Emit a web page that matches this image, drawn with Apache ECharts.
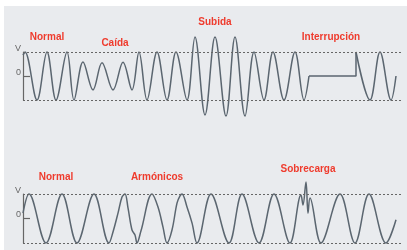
<!DOCTYPE html>
<html>
<head>
<meta charset="utf-8">
<script src="https://cdn.jsdelivr.net/npm/echarts@6/dist/echarts.min.js"></script>
<style>
  html, body { margin: 0; padding: 0; background: #fff; }
  #chart { width: 407px; height: 250px; }
</style>
</head>
<body>
<div id="chart"></div>
<script>
// waveform points: [t, V]  (V = 1 is the nominal peak)
const topWave = [
  [0, 0.87], [2, 1], [14, -1], [24, 1], [33, -1], [44, 1], [51, -1],
  [60, 0.58], [70, -0.58], [79, 0.55], [90, -0.58], [100, 0.57], [109, -0.58],
  [116, 1], [124, -1], [134, 1], [144, -1], [153, 1], [164, -1],
  [172, 1.62], [182, -1.62], [192, 1.62], [203, -1.67], [212, 1.62], [222, -1.67],
  [231, 1], [241, -1], [250, 1], [261, -1], [272, 1], [281, -1], [286, 0]
];
const topGap = [[286, 0], [333, 0], [333, 1]];
const topWaveEnd = [[333, 1], [347, -1], [357, 1], [368, -1], [373, 0]];

const bottomWave = [
  [0, 0.22], [6, 1], [23, -1], [39, 1], [54, -1], [71, 1], [86, -1],
  [90, -0.55], [95, 0.22], [99, 0.88], [102, 1], [105, 0.43], [109, -0.47], [112, -0.67], [114, -1],
  [118, -0.5], [129, 1], [135, 0.47], [140, -0.35], [144, -1],
  [149, -0.47], [154, 0.63], [157, 0.92], [159, 1], [164, 0.47], [169, -0.18], [174, -1],
  [188, 1], [206, -1], [219, 1], [236, -1], [251, 1], [267, -1],
  [278, 0.96], [280, 0.55], [283, 1.49], [285, 0.22], [287, 0.84],
  [298, -1], [317, 1], [332, -1], [346, 1], [363, -1], [373, -0.05]
];

const yTicks = [0];
const yLabels = [0, 1];

const red = '#ef3b2d';
const waveColor = '#5b6670';
const labelFont = 'bold 10px "Liberation Sans", Arial, sans-serif';

const chart = echarts.init(document.getElementById('chart'));

function yAxis(gridIndex) {
  return {
    gridIndex: gridIndex,
    type: 'value',
    min: -1,
    max: 1,
    interval: 1,
    axisLine: { show: true, lineStyle: { color: '#666', width: 1.2 } },
    axisTick: { show: true, inside: true, length: 7, customValues: yTicks, lineStyle: { color: '#666', width: 1.2 } },
    axisLabel: {
      customValues: yLabels,
      margin: 2,
      color: '#666',
      fontSize: 9,
      lineHeight: 7,
      fontFamily: '"Liberation Sans", Arial, sans-serif',
      verticalAlign: 'bottom',
      formatter: v => (v === 1 ? 'V' : '0')
    },
    splitLine: { show: false }
  };
}

function xAxis(gridIndex) {
  return { gridIndex: gridIndex, type: 'value', min: 0, max: 378, show: false };
}

const limits = {
  silent: true,
  symbol: 'none',
  label: { show: false },
  lineStyle: { color: '#666', type: [2, 2], width: 1 },
  data: [{ yAxis: 1 }, { yAxis: -1 }]
};

function wave(data, idx, smooth, extra) {
  return Object.assign({
    type: 'line',
    xAxisIndex: idx,
    yAxisIndex: idx,
    data: data,
    smooth: smooth,
    symbol: 'none',
    clip: false,
    silent: true,
    lineStyle: { color: waveColor, width: 1.5 }
  }, extra || {});
}

function note(text, x, y) {
  return {
    type: 'text',
    x: x,
    y: y,
    style: { text: text, fill: red, font: labelFont, align: 'center', verticalAlign: 'middle' }
  };
}

chart.setOption({
  animation: false,
  backgroundColor: '#fff',
  graphic: [
    { type: 'rect', shape: { x: 4, y: 6, width: 403, height: 244 }, style: { fill: '#e9ebee' }, z: -10 },
    note('Normal', 47, 37),
    note('Caída', 115, 43),
    note('Subida', 215, 22),
    note('Interrupción', 331, 37),
    note('Normal', 56, 177),
    note('Armónicos', 157, 177),
    note('Sobrecarga', 308, 169)
  ],
  grid: [
    { left: 23, right: 6, top: 52, height: 48 },
    { left: 23, right: 6, top: 194, height: 49 }
  ],
  xAxis: [xAxis(0), xAxis(1)],
  yAxis: [yAxis(0), yAxis(1)],
  series: [
    wave(topWave, 0, 0.36, { markLine: limits }),
    wave(topGap, 0, false),
    wave(topWaveEnd, 0, 0.36),
    wave(bottomWave, 1, 0.36, { markLine: limits })
  ]
});
</script>
</body>
</html>
